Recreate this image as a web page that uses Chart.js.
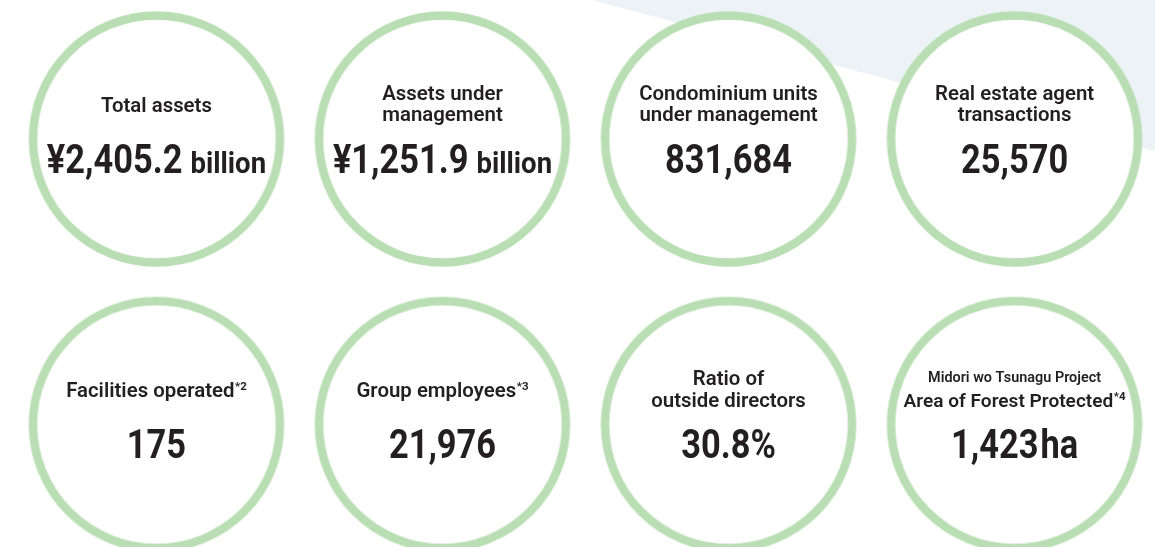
<!DOCTYPE html>
<html><head><meta charset="utf-8">
<script src="https://cdn.jsdelivr.net/npm/chart.js@4/dist/chart.umd.min.js"></script>
<style>html,body{margin:0;padding:0;background:#fff;overflow:hidden}
#wrap{position:relative;width:1155px;height:547px}</style></head>
<body><div id="wrap"><canvas id="c" width="1155" height="547"></canvas></div>
<script>
// ---- data ----
const kickers = ["", "", "", "", "", "", "", "Midori wo Tsunagu Project"];
const labels = [["Total assets"], ["Assets under", "management"], ["Condominium units", "under management"], ["Real estate agent", "transactions"],
                ["Facilities operated"], ["Group employees"], ["Ratio of", "outside directors"], ["Area of Forest Protected"]];
const notes = ["", "", "", "", "*2", "*3", "", "*4"];
const values = [2405.2, 1251.9, 831684, 25570, 175, 21976, 30.8, 1423];
const decimals = [1, 1, 0, 0, 0, 0, 1, 0];
const prefixes = ["¥", "¥", "", "", "", "", "", ""];
const suffixes = ["", "", "", "", "", "", "%", ""];
const units = ["billion", "billion", "", "", "", "", "", "ha"];
const columns = [0, 1, 2, 3, 0, 1, 2, 3];
const rows = [0, 0, 0, 0, 1, 1, 1, 1];

// ---- styling ----
const INK = '#231f20';
const RING = '#b9deb3';
const FAMILY = 'Roboto, "Open Sans", sans-serif';

function ringImage() {
  const c = document.createElement('canvas');
  c.width = 258; c.height = 258;
  const g = c.getContext('2d');
  g.beginPath();
  g.arc(129, 129, 123.5, 0, Math.PI * 2);
  g.fillStyle = '#fff'; g.fill();
  g.lineWidth = 8.5; g.strokeStyle = RING; g.stroke();
  return c;
}

function fmt(i) {
  return prefixes[i] + values[i].toLocaleString('en-US', {minimumFractionDigits: decimals[i], maximumFractionDigits: decimals[i]}) + suffixes[i];
}

const bgPlugin = {
  id: 'bg',
  beforeDraw(chart) {
    const {ctx, width, height} = chart;
    ctx.save();
    ctx.fillStyle = '#edf2f6';
    ctx.beginPath();
    ctx.moveTo(width * 0.5126, 0);
    ctx.lineTo(width, 0);
    ctx.lineTo(width, height * 0.276);
    ctx.closePath();
    ctx.fill();
    ctx.restore();
  }
};

function measure(ctx, text, font) { ctx.font = font; return ctx.measureText(text).width; }
function put(ctx, text, x, y, font, sx) {
  ctx.save(); ctx.translate(x, y); ctx.scale(sx, 1); ctx.font = font; ctx.textAlign = 'left'; ctx.textBaseline = 'alphabetic';
  ctx.fillStyle = INK; ctx.fillText(text, 0, 0); ctx.restore();
}
function centeredParts(ctx, parts, cx, y) {
  let total = 0;
  parts.forEach(p => { p.w = measure(ctx, p.text, p.font) * p.sx; total += p.w + (p.gap || 0); });
  let x = cx - total / 2;
  parts.forEach(p => { x += (p.gap || 0); put(ctx, p.text, x, y + (p.dy || 0), p.font, p.sx); x += p.w; });
}

const LABEL_FONT = '600 20px ' + FAMILY;
const LABEL_SX = 1.02;
const AREA_FONT = '600 18px ' + FAMILY;
const KICKER_FONT = '600 14px ' + FAMILY;
const NOTE_FONT = '700 11.5px ' + FAMILY;
const VALUE_FONT = '700 40px ' + FAMILY;
const VALUE_SX = 0.86;
const UNIT_FONT = '700 29px ' + FAMILY;

const textPlugin = {
  id: 'texts',
  afterDatasetsDraw(chart) {
    const ctx = chart.ctx;
    const meta = chart.getDatasetMeta(0);
    meta.data.forEach((pt, i) => {
      const x = pt.x, y = pt.y;
      const lines = labels[i];
      if (kickers[i]) {
        centeredParts(ctx, [{text: kickers[i], font: KICKER_FONT, sx: 1.03}], x, y - 42.8);
        centeredParts(ctx, [{text: lines[0], font: AREA_FONT, sx: 1.06},
                            {text: notes[i], font: NOTE_FONT, sx: 1.0, dy: -7, gap: 0.5}], x, y - 17.2);
      } else {
        const base = lines.length === 2 ? [y - 39.3, y - 18] : [y - 27.3];
        lines.forEach((ln, k) => {
          const parts = [{text: ln, font: LABEL_FONT, sx: LABEL_SX}];
          if (k === lines.length - 1 && notes[i]) parts.push({text: notes[i], font: NOTE_FONT, sx: 1.0, dy: -7.5, gap: 0.5});
          centeredParts(ctx, parts, x, base[k]);
        });
      }
      const vparts = [{text: fmt(i), font: VALUE_FONT, sx: VALUE_SX}];
      if (units[i] === 'billion') vparts.push({text: units[i], font: UNIT_FONT, sx: 0.95, gap: 8});
      else if (units[i]) vparts.push({text: units[i], font: VALUE_FONT, sx: VALUE_SX, gap: 2});
      centeredParts(ctx, vparts, x, y + 33.8);
    });
  }
};

new Chart(document.getElementById('c'), {
  type: 'scatter',
  data: {
    datasets: [{
      data: values.map((v, i) => ({x: columns[i], y: rows[i]})),
      pointStyle: ringImage(),
      pointRadius: 10,
      clip: false
    }]
  },
  options: {
    responsive: false,
    animation: false,
    events: [],
    layout: {padding: 0, autoPadding: false},
    plugins: {legend: {display: false}, tooltip: {enabled: false}},
    scales: {
      x: {type: 'linear', display: false, min: -0.547, max: 3.491},
      y: {type: 'linear', display: false, reverse: true, min: -0.487, max: 1.429}
    }
  },
  plugins: [bgPlugin, textPlugin]
});
</script>
</body></html>
